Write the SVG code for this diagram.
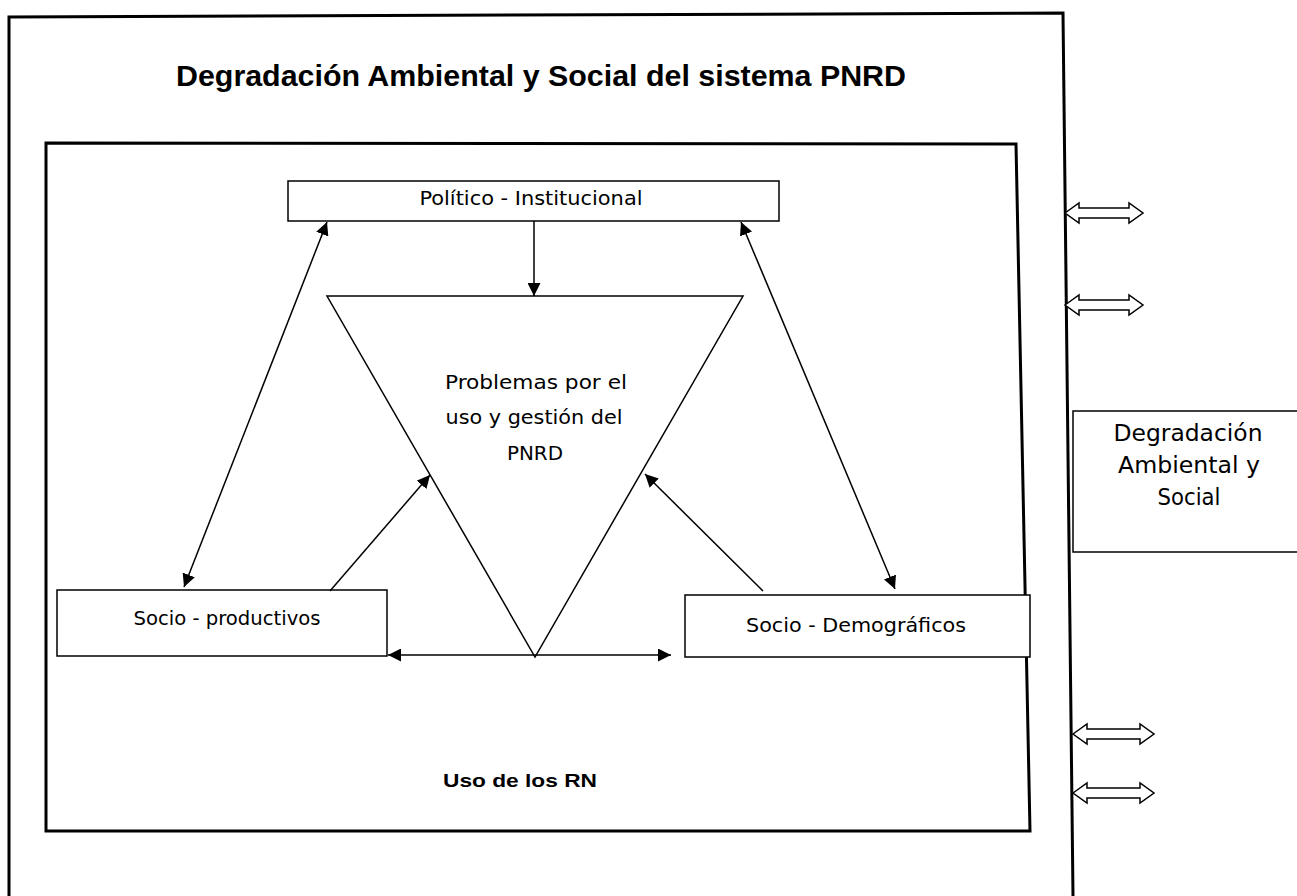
<svg xmlns="http://www.w3.org/2000/svg" width="1297" height="896" viewBox="0 0 1297 896">
<style>
.frame{fill:none;stroke:#000;stroke-width:3}
.box{fill:#fff;stroke:#000;stroke-width:1.5}
.t{font-family:"DejaVu Sans Condensed","DejaVu Sans",sans-serif;font-size:20px;fill:#000;text-anchor:middle}
.t2{font-family:"DejaVu Sans Condensed","DejaVu Sans",sans-serif;font-size:23px;fill:#000;text-anchor:middle}
.b{font-family:"Liberation Sans",Arial,sans-serif;font-weight:bold;fill:#000;text-anchor:middle}
.title{font-size:29px}
.sub{font-size:19px}
.c{stroke:#000;stroke-width:1.5;fill:none}
.dbl{fill:#fff;stroke:#000;stroke-width:1.5}
</style>
<defs>
<marker id="ah" viewBox="0 0 10 10" refX="10" refY="5" markerWidth="13" markerHeight="13" markerUnits="userSpaceOnUse" orient="auto-start-reverse">
<path d="M0,0 L10,5 L0,10 Z" fill="#000"/>
</marker>
</defs>
<rect width="1297" height="896" fill="#fff"/>
<g id="outer-frame">
<path class="frame" d="M9,896 L9,17 L1063,13 L1073,896"/>
<text class="b title" x="541" y="86" textLength="730" lengthAdjust="spacingAndGlyphs">Degradación Ambiental y Social del sistema PNRD</text>
</g>
<g id="inner-frame">
<path class="frame" d="M46,143 L1016,144 L1030,831 L46,831 Z"/>
<text class="b sub" x="520" y="787" textLength="154" lengthAdjust="spacingAndGlyphs">Uso de los RN</text>
</g>
<g id="politico">
<rect class="box" x="288" y="181" width="491" height="40"/>
<text class="t" x="531" y="205" textLength="223" lengthAdjust="spacingAndGlyphs">Político - Institucional</text>
</g>
<g id="problemas">
<path class="box" d="M327,296 L743,296 L535,657 Z"/>
<text class="t" x="536" y="389" textLength="182" lengthAdjust="spacingAndGlyphs">Problemas por el</text>
<text class="t" x="534" y="424" textLength="177" lengthAdjust="spacingAndGlyphs">uso y gestión del</text>
<text class="t" x="535" y="460" textLength="56" lengthAdjust="spacingAndGlyphs">PNRD</text>
</g>
<g id="socio-productivos">
<rect class="box" x="57" y="590" width="330" height="66"/>
<text class="t" x="227" y="625" textLength="187" lengthAdjust="spacingAndGlyphs">Socio - productivos</text>
</g>
<g id="socio-demograficos">
<rect class="box" x="685" y="595" width="345" height="62"/>
<text class="t" x="856" y="632" textLength="220" lengthAdjust="spacingAndGlyphs">Socio - Demográficos</text>
</g>
<g id="degradacion">
<rect class="box" x="1073" y="411" width="240" height="141"/>
<text class="t2" x="1188" y="441" textLength="149" lengthAdjust="spacingAndGlyphs">Degradación</text>
<text class="t2" x="1189" y="473" textLength="142" lengthAdjust="spacingAndGlyphs">Ambiental y</text>
<text class="t2" x="1189" y="505" textLength="63" lengthAdjust="spacingAndGlyphs">Social</text>
</g>
<g id="connectors">
<line class="c" x1="534" y1="221" x2="534" y2="296" marker-end="url(#ah)"/>
<line class="c" x1="327" y1="222" x2="184" y2="587" marker-start="url(#ah)" marker-end="url(#ah)"/>
<line class="c" x1="741" y1="222" x2="895" y2="589" marker-start="url(#ah)" marker-end="url(#ah)"/>
<line class="c" x1="388" y1="655" x2="671" y2="655" marker-start="url(#ah)" marker-end="url(#ah)"/>
<line class="c" x1="330" y1="591" x2="430" y2="475" marker-end="url(#ah)"/>
<line class="c" x1="763" y1="591" x2="645" y2="474" marker-end="url(#ah)"/>
<path class="dbl" d="M1065,213 L1079,203 L1079,208 L1129,208 L1129,203 L1143,213 L1129,223 L1129,218 L1079,218 L1079,223 Z"/>
<path class="dbl" d="M1065,305 L1079,295 L1079,300 L1129,300 L1129,295 L1143,305 L1129,315 L1129,310 L1079,310 L1079,315 Z"/>
<path class="dbl" d="M1073,734 L1087,724 L1087,729 L1140,729 L1140,724 L1154,734 L1140,744 L1140,739 L1087,739 L1087,744 Z"/>
<path class="dbl" d="M1073,793 L1087,783 L1087,788 L1140,788 L1140,783 L1154,793 L1140,803 L1140,798 L1087,798 L1087,803 Z"/>
</g>
</svg>
